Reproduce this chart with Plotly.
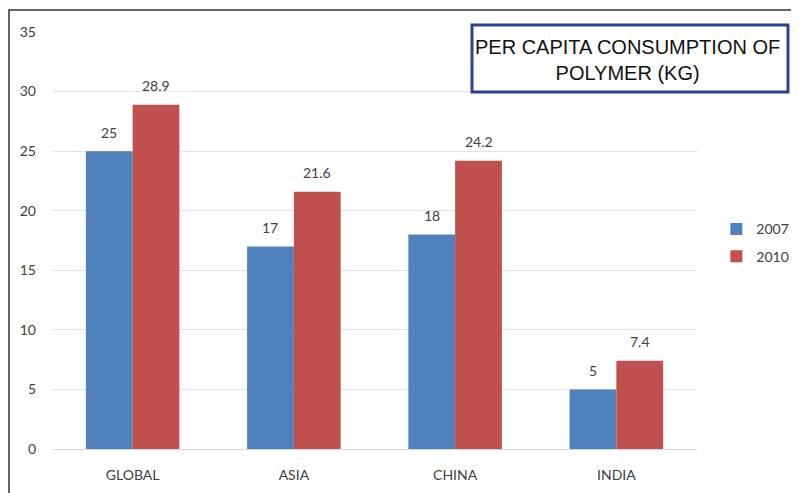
import plotly.graph_objects as go

categories = ["GLOBAL", "ASIA", "CHINA", "INDIA"]
values_2007 = [25, 17, 18, 5]
values_2010 = [28.9, 21.6, 24.2, 7.4]
labels_2007 = ["25", "17", "18", "5"]
labels_2010 = ["28.9", "21.6", "24.2", "7.4"]
y_ticks = [0, 5, 10, 15, 20, 25, 30, 35]

FONT = "Lato, 'Open Sans', sans-serif"
LABEL_COLOR = "#404040"

fig = go.Figure()
fig.add_trace(go.Bar(
    x=categories, y=values_2007, name="2007", legendgroup="a",
    marker=dict(color="#4f81bd", line=dict(width=0)),
))
fig.add_trace(go.Bar(
    x=categories, y=values_2010, name="2010", legendgroup="b",
    marker=dict(color="#c0504d", line=dict(width=0)),
))

# data labels placed above each bar
annotations = []
for cat, v, t in zip(categories, values_2007, labels_2007):
    annotations.append(dict(x=cat, y=v, text=t, xref="x", yref="y", showarrow=False,
                            xshift=-23.4, yshift=19, yanchor="middle",
                            font=dict(size=14, color=LABEL_COLOR, family=FONT)))
for cat, v, t in zip(categories, values_2010, labels_2010):
    annotations.append(dict(x=cat, y=v, text=t, xref="x", yref="y", showarrow=False,
                            xshift=23.4, yshift=19, yanchor="middle",
                            font=dict(size=14, color=LABEL_COLOR, family=FONT)))

annotations.append(dict(
    text="PER CAPITA CONSUMPTION OF<br>POLYMER (KG)",
    xref="paper", yref="paper",
    x=(627 - 52) / 645, y=(449 - 59.5) / 417,
    xanchor="center", yanchor="middle", showarrow=False,
    align="center",
    font=dict(size=20, color="#111111", family="'Liberation Sans', Arial, sans-serif"),
))

fig.update_layout(
    width=791, height=485,
    margin=dict(l=44, r=102, t=24, b=44, autoexpand=False),
    paper_bgcolor="white", plot_bgcolor="white",
    barmode="group", bargap=0.42, bargroupgap=0,
    font=dict(family=FONT, color=LABEL_COLOR),
    showlegend=True,
    legend=dict(
        x=1.030, y=0.565, xanchor="left", yanchor="top",
        font=dict(size=14, color=LABEL_COLOR, family=FONT),
        traceorder="grouped", tracegroupgap=6,
        itemwidth=30, bgcolor="rgba(0,0,0,0)",
    ),
    xaxis=dict(
        showgrid=False, showline=True, linecolor="#d9d9d9", linewidth=1,
        ticks="", tickfont=dict(size=14, color=LABEL_COLOR, family=FONT),
        ticklabelstandoff=13,
    ),
    yaxis=dict(
        range=[0, 35], tickvals=y_ticks, showgrid=True,
        gridcolor="#e3e3e3", gridwidth=1, zeroline=False,
        showline=False, ticks="",
        tickfont=dict(size=14, color=LABEL_COLOR, family=FONT),
        ticklabelstandoff=15,
    ),
    shapes=[
        # outer chart border (top and left visible)
        dict(type="rect", xref="paper", yref="paper",
             x0=(9 - 52) / 645, x1=1.3, y0=-0.3, y1=(449 - 10) / 417,
             line=dict(color="#333333", width=1.5), fillcolor="rgba(0,0,0,0)",
             layer="above"),
        # title box
        dict(type="rect", xref="paper", yref="paper",
             x0=(472 - 52) / 645, x1=(788 - 52) / 645,
             y0=(449 - 92) / 417, y1=(449 - 25) / 417,
             line=dict(color="#2b4391", width=3), fillcolor="white",
             layer="above"),
    ],
    annotations=annotations,
)

fig.write_html("out.html")
